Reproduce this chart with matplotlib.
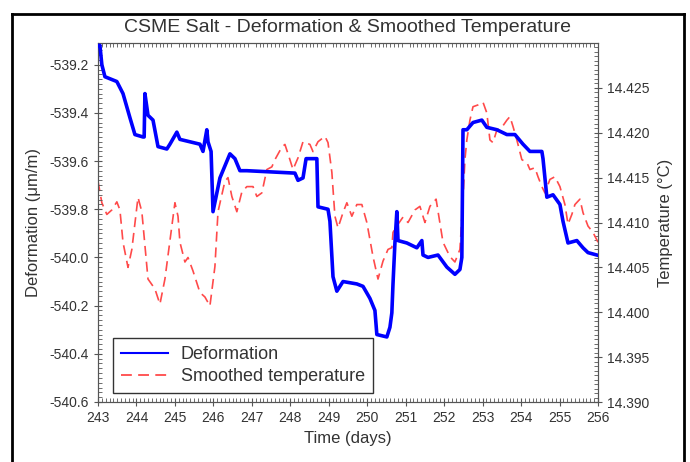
import matplotlib
matplotlib.use("Agg")
import matplotlib.pyplot as plt
from matplotlib.lines import Line2D
from matplotlib.ticker import MultipleLocator, FormatStrFormatter

plt.rcParams['font.family'] = ['Liberation Sans', 'DejaVu Sans']

# Deformation (left axis, µm/m)
def_time = [243.00, 243.05, 243.10, 243.18, 243.49, 243.65, 243.83, 243.96, 244.17, 244.20,
            244.22, 244.30, 244.43, 244.56, 244.79, 244.87, 245.05, 245.13, 245.39, 245.65,
            245.73, 245.83, 245.86, 245.94, 245.99, 246.17, 246.43, 246.56, 246.69, 246.87,
            248.12, 248.20, 248.33, 248.41, 248.69, 248.72, 248.98, 249.03, 249.11, 249.21,
            249.37, 249.73, 249.89, 250.07, 250.20, 250.25, 250.51, 250.59, 250.64, 250.67,
            250.72, 250.77, 250.80, 251.03, 251.29, 251.42, 251.45, 251.58, 251.84, 252.07,
            252.28, 252.41, 252.46, 252.49, 252.59, 252.75, 252.98, 253.11, 253.37, 253.63,
            253.84, 254.05, 254.23, 254.54, 254.57, 254.67, 254.83, 255.01, 255.09, 255.22,
            255.45, 255.61, 255.74, 255.97]
deformation = [-539.12, -539.12, -539.20, -539.25, -539.27, -539.32, -539.42, -539.49, -539.50, -539.50,
               -539.32, -539.41, -539.43, -539.54, -539.55, -539.53, -539.48, -539.51, -539.52, -539.53,
               -539.56, -539.47, -539.52, -539.56, -539.81, -539.67, -539.57, -539.59, -539.64, -539.64,
               -539.65, -539.68, -539.67, -539.59, -539.59, -539.79, -539.80, -539.85, -540.08, -540.14,
               -540.10, -540.11, -540.12, -540.17, -540.22, -540.32, -540.33, -540.29, -540.23, -540.11,
               -539.94, -539.81, -539.93, -539.94, -539.96, -539.93, -539.99, -540.00, -539.99, -540.04,
               -540.07, -540.05, -540.00, -539.47, -539.47, -539.44, -539.43, -539.46, -539.47, -539.49,
               -539.49, -539.53, -539.56, -539.56, -539.59, -539.75, -539.74, -539.78, -539.85, -539.94,
               -539.93, -539.96, -539.98, -539.99]

# Smoothed temperature (right axis, °C)
temp_time = [243.00, 243.10, 243.23, 243.36, 243.49, 243.57, 243.65, 243.78, 243.88, 244.04,
             244.14, 244.30, 244.48, 244.61, 244.74, 244.92, 245.00, 245.08, 245.13, 245.26,
             245.34, 245.47, 245.65, 245.78, 245.91, 246.04, 246.12, 246.30, 246.38, 246.48,
             246.61, 246.74, 246.87, 247.03, 247.13, 247.26, 247.39, 247.52, 247.60, 247.78,
             247.86, 247.99, 248.07, 248.20, 248.33, 248.51, 248.59, 248.72, 248.90, 248.98,
             249.08, 249.16, 249.24, 249.37, 249.47, 249.60, 249.73, 249.86, 249.99, 250.15,
             250.28, 250.41, 250.54, 250.64, 250.67, 250.80, 250.93, 251.06, 251.24, 251.37,
             251.50, 251.63, 251.79, 251.97, 252.15, 252.28, 252.41, 252.49, 252.54, 252.59,
             252.67, 252.75, 252.88, 253.01, 253.11, 253.19, 253.27, 253.37, 253.50, 253.63,
             253.71, 253.79, 253.89, 254.02, 254.15, 254.23, 254.36, 254.44, 254.54, 254.62,
             254.75, 254.88, 255.01, 255.14, 255.22, 255.32, 255.40, 255.53, 255.61, 255.74,
             255.87, 256.00]
temperature = [14.4146, 14.4122, 14.4109, 14.4114, 14.4123, 14.4114, 14.4078, 14.4050, 14.4070, 14.4128,
               14.4112, 14.4037, 14.4026, 14.4009, 14.4037, 14.4096, 14.4122, 14.4107, 14.4078, 14.4056,
               14.4061, 14.4046, 14.4022, 14.4017, 14.4007, 14.4051, 14.4112, 14.4146, 14.4150, 14.4129,
               14.4112, 14.4134, 14.4140, 14.4140, 14.4129, 14.4133, 14.4159, 14.4162, 14.4170, 14.4184,
               14.4187, 14.4170, 14.4159, 14.4172, 14.4190, 14.4187, 14.4179, 14.4190, 14.4196, 14.4189,
               14.4156, 14.4107, 14.4094, 14.4111, 14.4122, 14.4107, 14.4120, 14.4120, 14.4100, 14.4062,
               14.4037, 14.4057, 14.4070, 14.4072, 14.4089, 14.4098, 14.4106, 14.4100, 14.4114, 14.4118,
               14.4100, 14.4118, 14.4126, 14.4078, 14.4062, 14.4056, 14.4070, 14.4126, 14.4170, 14.4192,
               14.4214, 14.4229, 14.4231, 14.4234, 14.4222, 14.4192, 14.4189, 14.4203, 14.4206, 14.4214,
               14.4218, 14.4207, 14.4192, 14.4170, 14.4167, 14.4159, 14.4161, 14.4151, 14.4140, 14.4133,
               14.4148, 14.4151, 14.4140, 14.4120, 14.4098, 14.4109, 14.4120, 14.4126, 14.4111, 14.4096,
               14.4089, 14.4078]

title = "CSME Salt - Deformation & Smoothed Temperature"
xlabel = "Time (days)"
ylabel_left = "Deformation (\u03bcm/m)"
ylabel_right = "Temperature (\u00b0C)"
legend_labels = ["Deformation", "Smoothed temperature"]

blue = "#0000ff"
red = "#ff4a4a"
txt = "#333333"

fig = plt.figure(figsize=(6.9, 4.62), dpi=100)
ax = fig.add_axes([98/690, 1-402/462, 500/690, 359/462])
ax2 = ax.twinx()

ax.plot(def_time, deformation, color=blue, lw=2.6, zorder=3, solid_joinstyle='round')
ax2.plot(temp_time, temperature, color=red, lw=1.2, dashes=(6, 3.5), zorder=2)
ax.set_zorder(ax2.get_zorder() + 1)
ax.patch.set_visible(False)

ax.set_xlim(243, 256)
ax.set_ylim(-540.6, -539.11)
ax2.set_ylim(14.390, 14.430)

ax.xaxis.set_major_locator(MultipleLocator(1))
ax.xaxis.set_minor_locator(MultipleLocator(0.1))
ax.yaxis.set_major_locator(MultipleLocator(0.2))
ax.yaxis.set_minor_locator(MultipleLocator(0.02))
ax.yaxis.set_major_formatter(FormatStrFormatter('%.1f'))
ax2.set_yticks([14.390, 14.395, 14.400, 14.405, 14.410, 14.415, 14.420, 14.425])
ax2.yaxis.set_minor_locator(MultipleLocator(0.0005))
ax2.yaxis.set_major_formatter(FormatStrFormatter('%.3f'))

for a in (ax, ax2):
    for s in a.spines.values():
        s.set_color('#555555')
        s.set_linewidth(0.8)
ax.tick_params(axis='both', which='major', direction='inout', length=6, width=0.8,
               color='#555555', labelsize=10, labelcolor=txt)
ax.tick_params(axis='both', which='minor', direction='in', length=3, width=0.6, color='#555555')
ax.tick_params(axis='x', which='both', top=True)
ax.tick_params(axis='x', which='major', top=False)
ax.tick_params(axis='y', which='both', right=False)
ax2.tick_params(axis='y', which='major', direction='inout', length=6, width=0.8,
                color='#555555', labelsize=10, labelcolor=txt)
ax2.tick_params(axis='y', which='minor', direction='in', length=3, width=0.6, color='#555555')

ax.set_title(title, fontsize=14, color=txt, pad=8)
ax.set_xlabel(xlabel, fontsize=12, color=txt, labelpad=4)
ax.set_ylabel(ylabel_left, fontsize=12, color=txt, labelpad=6)
ax2.set_ylabel(ylabel_right, fontsize=12, color=txt, rotation=90, labelpad=6)

handles = [Line2D([], [], color=blue, lw=1.5),
           Line2D([], [], color=red, lw=1.3, dashes=(6, 3.5))]
leg = ax.legend(handles, legend_labels, loc='lower left', bbox_to_anchor=(0.03, 0.025),
                fontsize=13, fancybox=False, framealpha=1, edgecolor='#333333',
                handlelength=2.6, borderaxespad=0, labelspacing=0.25, borderpad=0.45,
                handletextpad=0.7)
for t in leg.get_texts():
    t.set_color(txt)
leg.get_frame().set_linewidth(1.0)

# outer black frame (open at the bottom)
xl, xr, yt = 12/690, 684/690, 1 - 14/462
for xs, ys in (([xl, xl], [-0.2, yt]), ([xr, xr], [-0.2, yt]), ([xl, xr], [yt, yt])):
    fig.add_artist(Line2D(xs, ys, transform=fig.transFigure, color='black', lw=2.0,
                          solid_capstyle='projecting', clip_on=False))

fig.savefig("out.png", dpi=100)
